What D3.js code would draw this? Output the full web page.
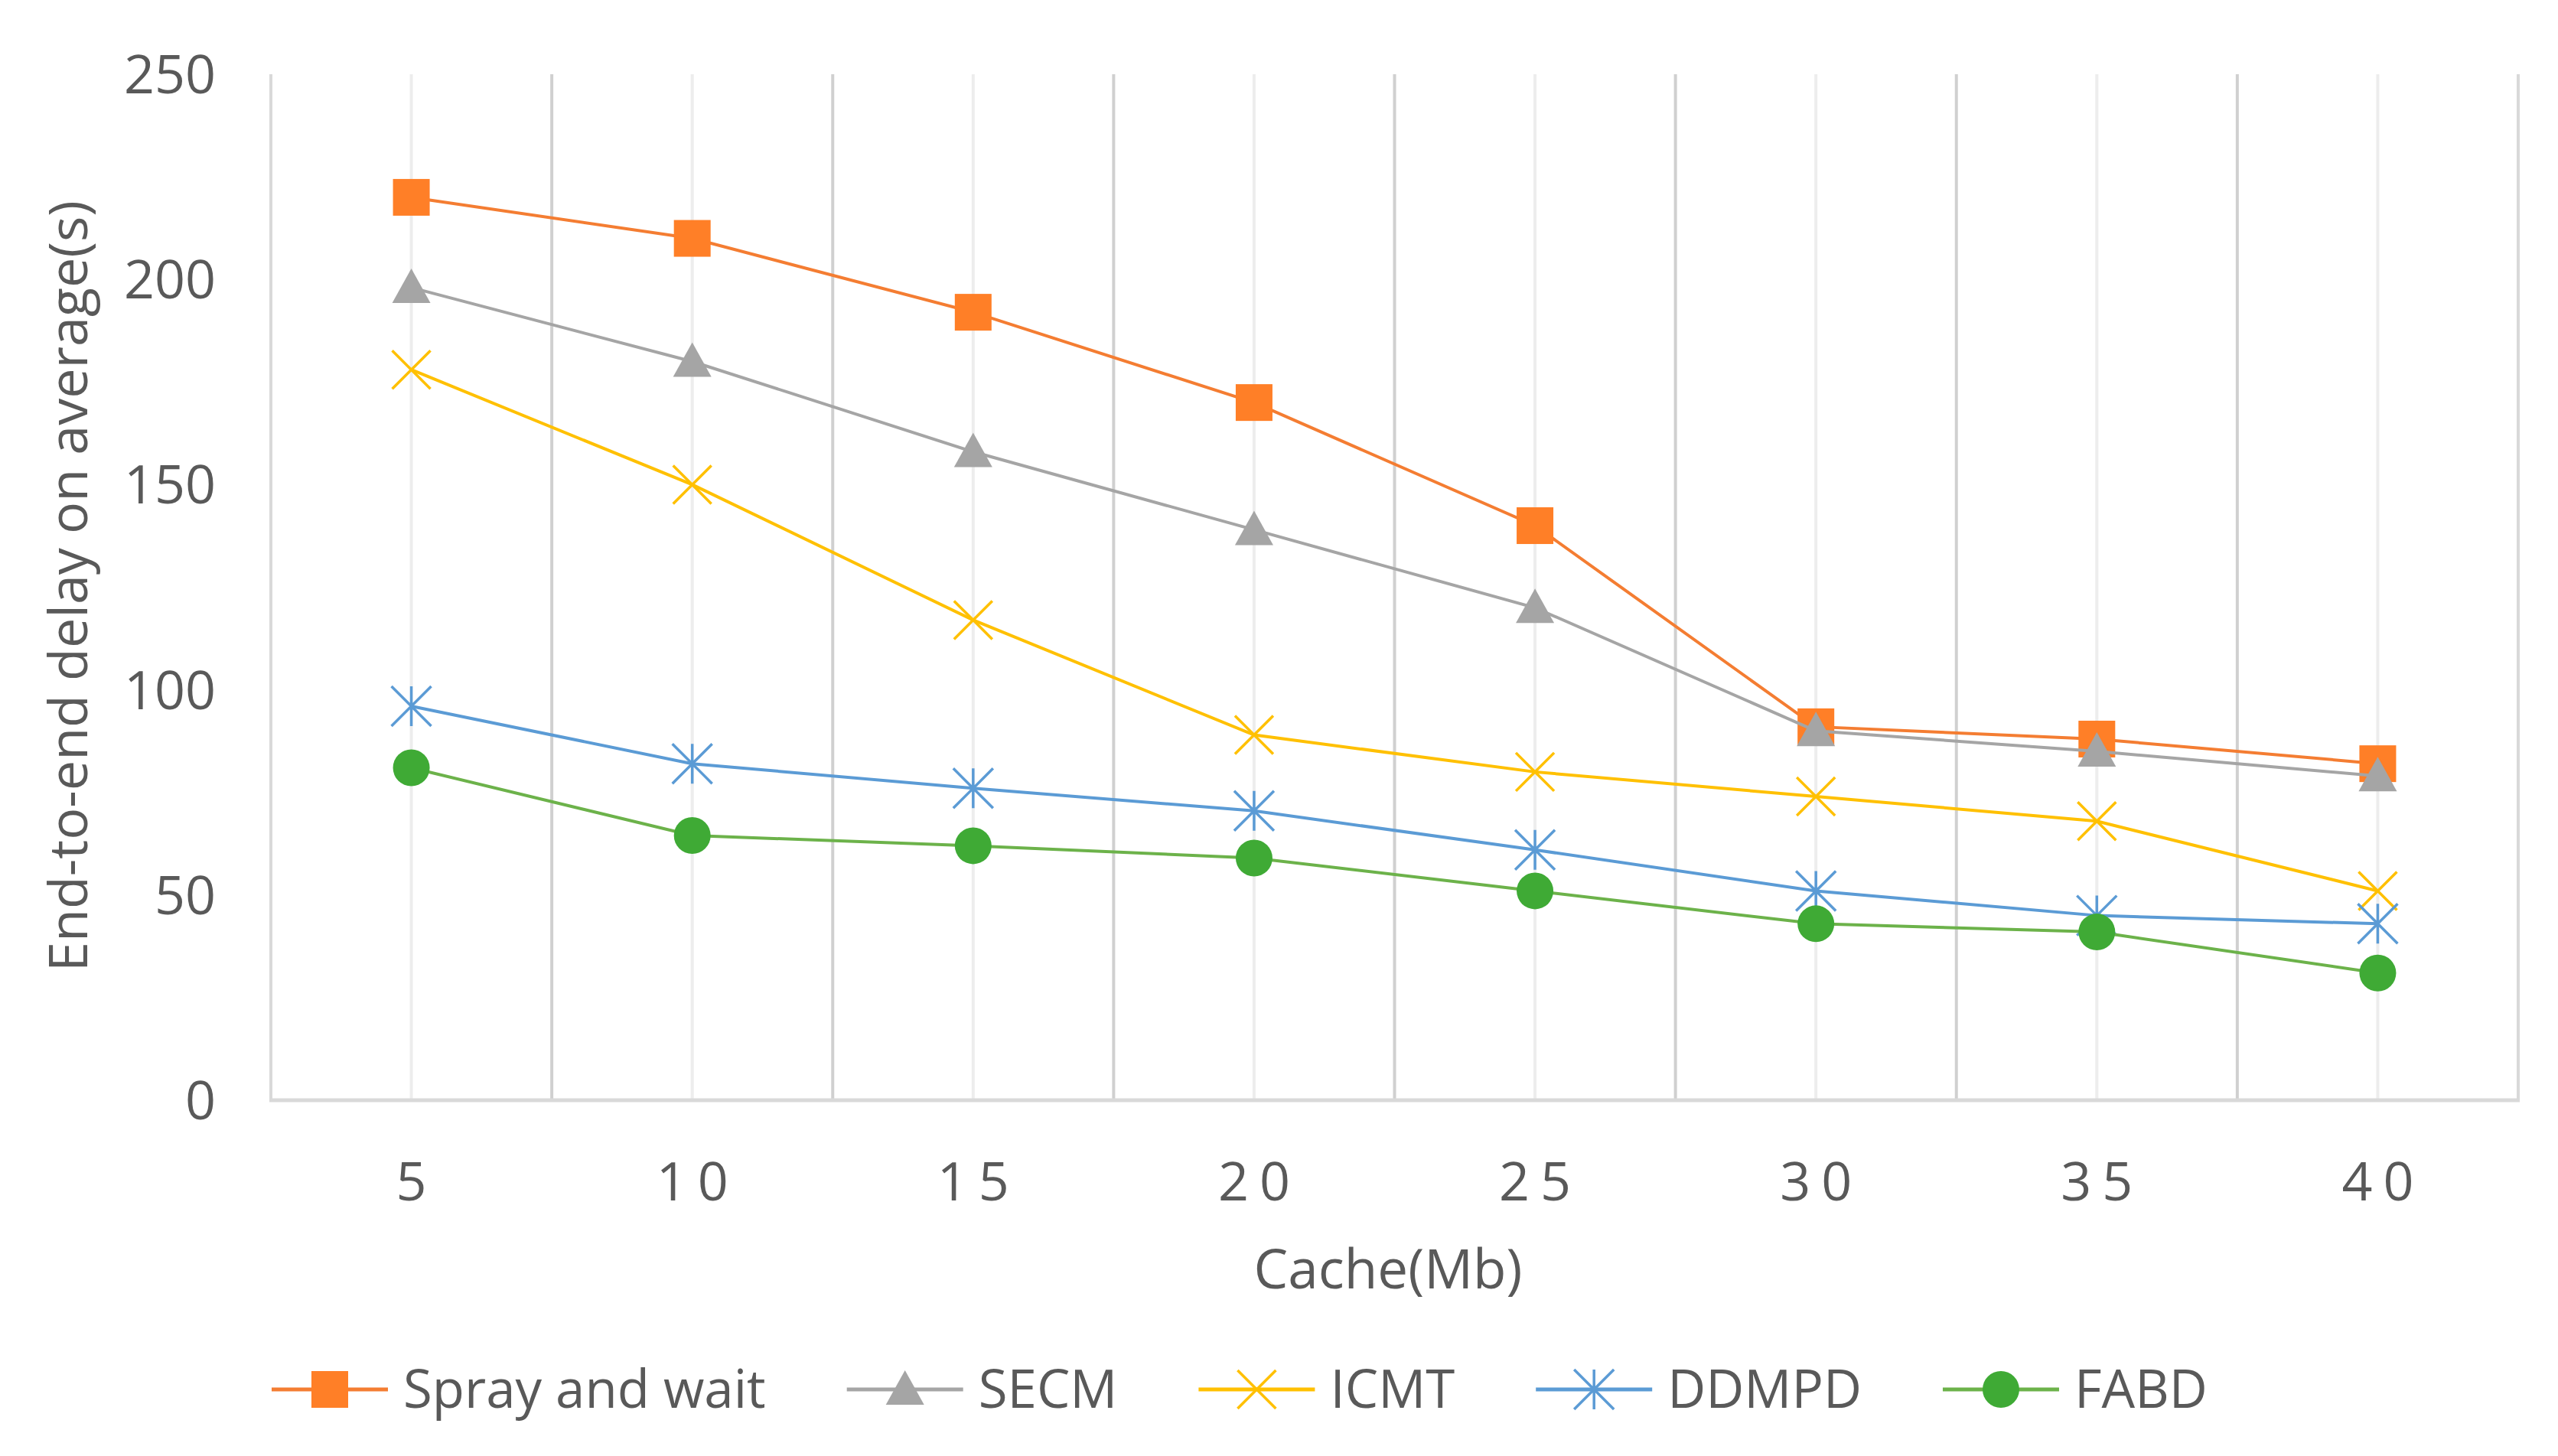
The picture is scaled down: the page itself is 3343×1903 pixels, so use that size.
<!DOCTYPE html>
<html lang="en">
<head>
    <meta charset="UTF-8">
    <title>End-to-end delay vs cache</title>
    <style>
        body { margin: 0; background: #fff; }
        text { font-family: "Open Sans", "Noto Sans", sans-serif; fill: #595959; }
    </style>
</head>
<body>
    <script src="https://d3js.org/d3.v7.min.js"></script>
    <script>

        // data
        const cache = [5, 10, 15, 20, 25, 30, 35, 40];
        const yTicks = [0, 50, 100, 150, 200, 250];

        const sprayAndWait = [220, 210, 192, 170, 140, 91, 88, 82];
        const secm = [198, 180, 158, 139, 120, 90, 85, 79];
        const icmt = [178, 150, 117, 89, 80, 74, 68, 51];
        const ddmpd = [96, 82, 76, 70.5, 61, 51, 45, 43];
        const fabd = [81, 64.5, 62, 59, 51, 43, 41, 31];

        const seriesNames = ['Spray and wait', 'SECM', 'ICMT', 'DDMPD', 'FABD'];

        const series = [
            { name: seriesNames[0], values: sprayAndWait, line: '#f47d32', mark: '#ff7f27', shape: 'square' },
            { name: seriesNames[1], values: secm, line: '#a5a5a5', mark: '#a5a5a5', shape: 'triangle' },
            { name: seriesNames[2], values: icmt, line: '#ffc000', mark: '#ffc000', shape: 'x' },
            { name: seriesNames[3], values: ddmpd, line: '#5b9bd5', mark: '#5b9bd5', shape: 'star' },
            { name: seriesNames[4], values: fabd, line: '#6cb24a', mark: '#3faa35', shape: 'circle' }
        ];

        const svgWidth = 3343,
            svgHeight = 1903;

        const plotLeft = 354, plotRight = 3291, plotTop = 97, plotBottom = 1438;

        const svg = d3.select('body').append('svg')
            .attr('width', svgWidth)
            .attr('height', svgHeight);

        const x = d3.scaleBand()
            .domain(cache)
            .range([plotLeft, plotRight]);

        const y = d3.scaleLinear()
            .domain([0, 250])
            .range([plotBottom, plotTop]);

        const cx = d => x(d) + x.bandwidth() / 2;

        // light lines through the categories
        svg.append('g').selectAll('line')
            .data(cache)
            .join('line')
            .attr('x1', cx).attr('x2', cx)
            .attr('y1', plotTop).attr('y2', plotBottom)
            .attr('stroke', '#ededed')
            .attr('stroke-width', 4);

        // darker lines between the categories, plus the frame sides
        const edges = cache.map(d => x(d)).concat([plotRight]);
        svg.append('g').selectAll('line')
            .data(edges)
            .join('line')
            .attr('x1', d => d).attr('x2', d => d)
            .attr('y1', plotTop).attr('y2', plotBottom)
            .attr('stroke', (d, i) => (i === 0 || i === edges.length - 1) ? '#d9d9d9' : '#d0d0d0')
            .attr('stroke-width', 4);

        svg.append('line')
            .attr('x1', plotLeft - 2).attr('x2', plotRight + 2)
            .attr('y1', plotBottom).attr('y2', plotBottom)
            .attr('stroke', '#d9d9d9')
            .attr('stroke-width', 5);

        // y axis labels
        const yAxis = d3.axisLeft(y).tickValues(yTicks).tickSize(0).tickPadding(72);
        svg.append('g')
            .attr('transform', `translate(${plotLeft},0)`)
            .call(yAxis)
            .call(g => g.select('.domain').remove())
            .selectAll('text')
            .style('font-size', '70px')
            .attr('fill', '#595959')
            .attr('dy', '0.35em');

        // x axis labels (spaced digits as in the original)
        const xAxis = d3.axisBottom(x).tickSize(0).tickPadding(0);
        svg.append('g')
            .attr('transform', `translate(0,${plotBottom})`)
            .call(xAxis)
            .call(g => g.select('.domain').remove())
            .selectAll('text')
            .style('font-size', '70px')
            .style('letter-spacing', '14px')
            .attr('fill', '#595959')
            .attr('dx', '7px')
            .attr('y', 106)
            .attr('dy', '0.35em');

        svg.append('text')
            .attr('x', 1814)
            .attr('y', 1659)
            .attr('dy', '0.35em')
            .attr('text-anchor', 'middle')
            .style('font-size', '71px')
            .text('Cache(Mb)');

        svg.append('text')
            .attr('transform', 'translate(89,766) rotate(-90)')
            .attr('dy', '0.35em')
            .attr('text-anchor', 'middle')
            .style('font-size', '70px')
            .text('End-to-end delay on average(s)');

        function drawMarker(g, shape, color) {
            if (shape === 'square') {
                g.append('rect')
                    .attr('x', -24).attr('y', -24)
                    .attr('width', 48).attr('height', 48)
                    .attr('fill', color);
            } else if (shape === 'triangle') {
                g.append('path')
                    .attr('d', 'M0,-25L25,20L-25,20Z')
                    .attr('fill', color);
            } else if (shape === 'x') {
                g.append('path')
                    .attr('d', 'M-25,-25L25,25M25,-25L-25,25')
                    .attr('stroke', color)
                    .attr('stroke-width', 3.5)
                    .attr('fill', 'none');
            } else if (shape === 'star') {
                g.append('path')
                    .attr('d', 'M0,-26L0,26M-26,-26L26,26M26,-26L-26,26')
                    .attr('stroke', color)
                    .attr('stroke-width', 3.5)
                    .attr('fill', 'none');
            } else {
                g.append('circle')
                    .attr('r', 24)
                    .attr('fill', color);
            }
        }

        const line = d3.line()
            .x((d, i) => cx(cache[i]))
            .y(d => y(d));

        series.forEach(s => {
            svg.append('path')
                .datum(s.values)
                .attr('d', line)
                .attr('fill', 'none')
                .attr('stroke', s.line)
                .attr('stroke-width', 4);

            svg.append('g').selectAll('g')
                .data(s.values)
                .join('g')
                .attr('transform', (d, i) => `translate(${cx(cache[i])},${y(d)})`)
                .each(function () { drawMarker(d3.select(this), s.shape, s.mark); });
        });

        // legend
        const legendY = 1816;
        let lx = 355;
        series.forEach(s => {
            const g = svg.append('g').attr('transform', `translate(${lx},${legendY})`);
            g.append('line')
                .attr('x1', 0).attr('x2', 152)
                .attr('stroke', s.line)
                .attr('stroke-width', 5);
            const m = g.append('g').attr('transform', 'translate(76,0)');
            drawMarker(m, s.shape, s.mark);
            const t = g.append('text')
                .attr('x', 172)
                .attr('dy', '0.35em')
                .style('font-size', '69px')
                .text(s.name);
            lx += 172 + t.node().getComputedTextLength() + 106;
        });

    </script>
</body>
</html>
